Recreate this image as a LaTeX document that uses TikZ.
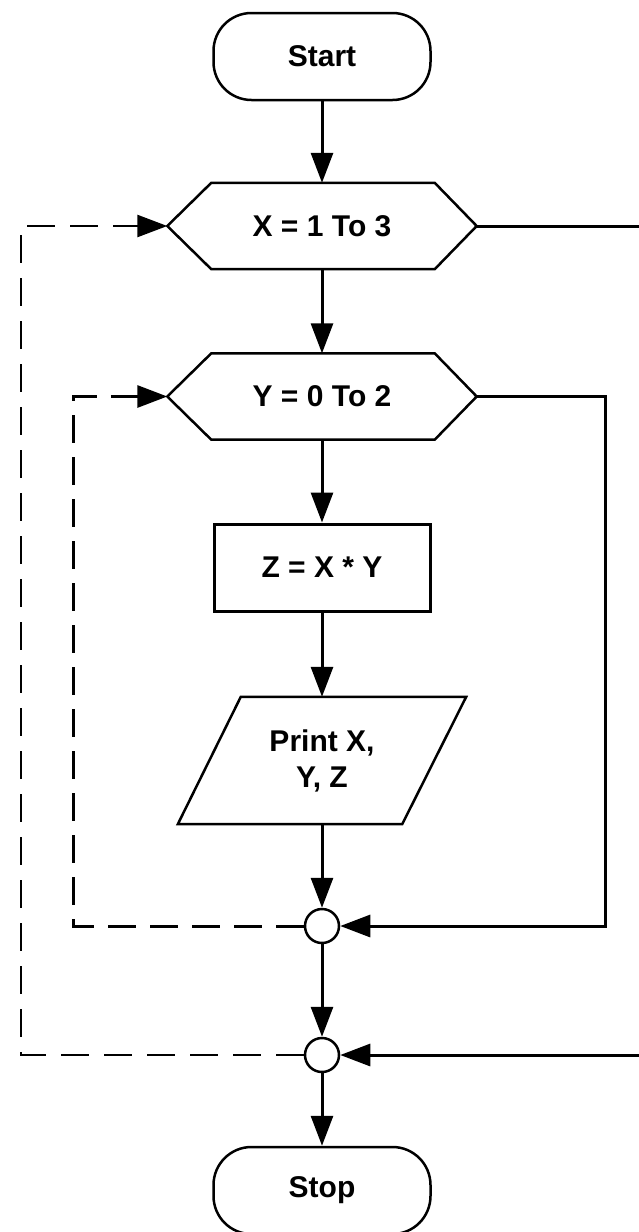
\documentclass[tikz,border=0pt]{standalone}
\usepackage{fontspec}
\setmainfont{Liberation Sans}
\usetikzlibrary{arrows.meta,calc}
\begin{document}
\begin{tikzpicture}[x=1pt,y=-1pt,
  txt/.style={font=\bfseries\fontsize{30}{36}\selectfont, inner sep=0pt, align=center},
  term/.style={txt, draw, line width=2.5pt, rounded corners=38pt, minimum width=217pt, minimum height=87pt},
  box/.style={txt, draw, line width=3pt, minimum width=216pt, minimum height=87pt},
  hexframe/.style={txt, minimum width=309pt, minimum height=86pt},
  paraframe/.style={txt, minimum width=288pt, minimum height=127pt},
  outline/.style={line width=2.5pt, line join=miter},
  joint/.style={draw, line width=2.5pt, circle, minimum size=34pt, inner sep=0pt, fill=white},
  flow/.style={line width=3pt, -{Triangle[length=30pt,width=22pt]}},
  innerloop/.style={flow, dash pattern=on 28pt off 14pt},
  outerloop/.style={flow, line width=2.5pt, dash pattern=on 28pt off 15pt}
]
\useasboundingbox (0,0) rectangle (639,1232);
\clip (0,0) rectangle (639,1232);
\fill[white] (0,0) rectangle (639,1232);

\node[term] (start) at (322,56.5) {Start};
\node[hexframe] (hx) at (322,226) {X = 1 To 3};
\node[hexframe] (hy) at (322,396.5) {Y = 0 To 2};
\node[box] (calc) at (322,567.5) {Z = X * Y};
\node[paraframe] (out) at (322,760.5) {Print X,\\Y, Z};
\node[joint] (c1) at (322,926) {};
\node[joint] (c2) at (322,1055) {};
\node[term] (stop) at (322,1190.5) {Stop};

\foreach \h in {hx,hy}{
  \draw[outline] (\h.west) -- ($(\h.north west)+(44,0)$) -- ($(\h.north east)+(-42,0)$)
    -- (\h.east) -- ($(\h.south east)+(-42,0)$) -- ($(\h.south west)+(44,0)$) -- cycle;
}
\draw[outline] (out.south west) -- ($(out.north west)+(63,0)$) -- (out.north east)
  -- ($(out.south east)+(-64,0)$) -- cycle;

\coordinate (ia) at (73,926);
\coordinate (oa) at (21,1055);
\coordinate (rb) at (605,926);
\coordinate (rc) at (652,1055);

\draw[flow] (start.south) -- (hx.north);
\draw[flow] (hx.south) -- (hy.north);
\draw[flow] (hy.south) -- (calc.north);
\draw[flow] (calc.south) -- (out.north);
\draw[flow] (out.south) -- (c1.north);
\draw[flow] (c1.south) -- (c2.north);
\draw[flow] (c2.south) -- (stop.north);

\draw[innerloop] (c1.west) -- (ia) |- (hy.west);
\draw[outerloop] (c2.west) -- (oa) |- (hx.west);
\draw[flow] (hy.east) -| (rb) -- (c1.east);
\draw[flow] (hx.east) -| (rc) -- (c2.east);
\end{tikzpicture}
\end{document}
